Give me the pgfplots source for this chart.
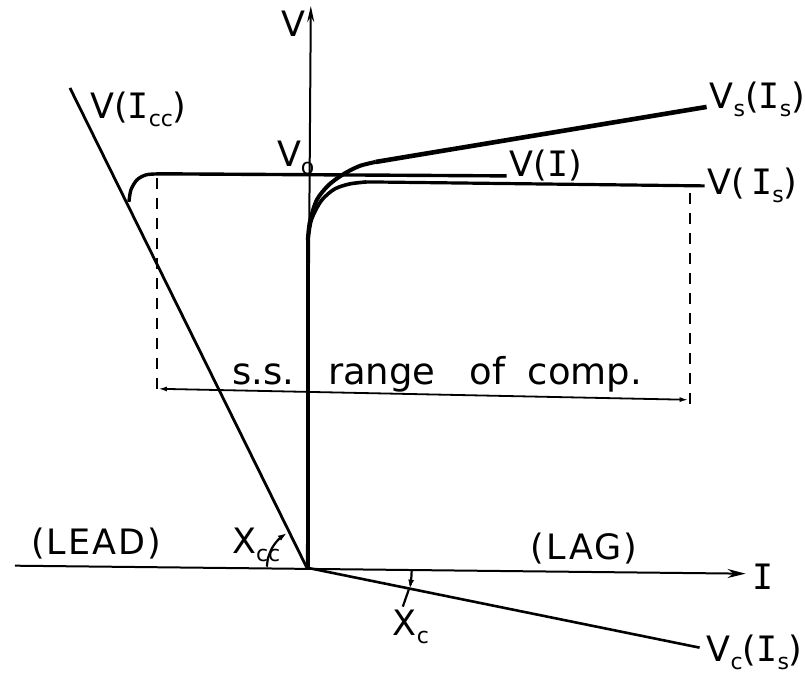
\documentclass[border=0pt]{standalone}
\usepackage{fontspec}
\setmainfont{DejaVu Sans}
\setmonofont{DejaVu Sans Mono}
\newfontfamily\spaced{DejaVu Sans}[LetterSpace=6]
\usepackage{pgfplots}
\pgfplotsset{compat=1.18}
\usetikzlibrary{arrows.meta}

% serifed capital I, as in the lettering of the figure
\newcommand\Ii{{\ttfamily I}}
% lowered, smaller subscript set in the text font
\newcommand\sub[1]{\raisebox{-0.4ex}{\fontsize{22}{22}\selectfont #1}}

\begin{document}
\begin{tikzpicture}[font=\fontsize{35}{40}\selectfont]
\begin{axis}[
  x=1pt, y=1pt,
  xmin=0, xmax=805, ymin=0, ymax=685,
  y dir=reverse,
  hide axis,
  clip=false,
]
% fixed drawing area
\path (axis cs:0,0) rectangle (axis cs:805,685);

% ---- axes ----
% current axis I (slightly sloping, as drawn)
\addplot[black, line width=2pt, -{Stealth[length=18pt,width=9pt]}]
  coordinates {(15,566) (746,574)};
% voltage axis V
\addplot[black, line width=2pt, -{Stealth[length=16pt,width=7pt]}]
  coordinates {(307,568) (311,6)};

% ---- characteristic lines ----
% V(I_cc): leading branch
\addplot[black, line width=2.8pt] coordinates {(70,88) (307,568)};
% V_c(I_s): compensator reactance line
\addplot[black, line width=2.6pt] coordinates {(307,568) (700,648)};

% common steep rise from the origin
\addplot[black, line width=4.2pt] coordinates {(308,568) (308,238)};

% V(I): flat at V_o, with the knee onto V(I_cc)
\addplot[black, line width=3.4pt, smooth]
  coordinates {(129,202) (131,190) (137,180) (146,175) (158,174) (175,174)};
\addplot[black, line width=3.4pt] coordinates {(175,174) (507,176)};

% V_s(I_s)
\addplot[black, line width=4pt, smooth]
  coordinates {(308,240) (310,222) (317,200) (329,185) (344,174) (360,166) (376,162)};
\addplot[black, line width=4.6pt] coordinates {(376,162) (707,107)};

% V(I_s)
\addplot[black, line width=3.6pt, smooth]
  coordinates {(308,240) (311,222) (316,210) (323,199) (335,189) (350,184) (367,182)};
\addplot[black, line width=3.2pt] coordinates {(367,182) (705,186)};

% ---- steady-state range of compensation ----
\addplot[black, line width=2pt, dash pattern=on 11pt off 9pt]
  coordinates {(157,178) (157,398)};
\addplot[black, line width=2pt, dash pattern=on 11pt off 9pt]
  coordinates {(690,193) (690,409)};
\addplot[black, line width=1.8pt,
  {Latex[length=9pt,width=5pt]}-{Latex[length=9pt,width=5pt]}]
  coordinates {(158,389) (689,400)};

% ---- slope angles ----
% X_cc between the I axis and V(I_cc)
\addplot[black, line width=2.2pt, smooth, -{Latex[length=9pt,width=6pt]}]
  coordinates {(267,567) (268.4,557.6) (272.4,548) (278.7,539.7) (287,533.4)};
% X_c between the I axis and V_c(I_s)
\addplot[black, line width=2.2pt, smooth, -{Latex[length=9pt,width=6pt]}]
  coordinates {(411.9,571) (411.6,577.2) (411,582.6) (410.1,589)};
\addplot[black, line width=2.2pt] coordinates {(409,590) (403,607)};

% ---- labels ----
\begin{scope}[every node/.style={inner sep=0pt, anchor=base west}]
\node at (axis cs:281,37)  {V};
\node at (axis cs:90,119)  {V(\Ii\sub{cc})};
\node at (axis cs:277,167) {V\sub{o}};
\node at (axis cs:510,177) {V(\Ii)};
\node at (axis cs:710,109) {V\sub{s}(\Ii\sub{s})};
\node at (axis cs:708,195) {V(\,\Ii\sub{s})};
\node at (axis cs:753,590) {\Ii};
\node at (axis cs:707,662) {V\sub{c}(\Ii\sub{s})};
\node at (axis cs:31,555)  {\spaced (LEAD)};
\node at (axis cs:232,554) {X\sub{cc}};
\node at (axis cs:531,560) {\spaced (LAG)};
\node at (axis cs:393,636) {X\sub{c}};
\node[font=\fontsize{37}{40}\selectfont] at (axis cs:232,385) {s.s.};
\node[font=\fontsize{37}{40}\selectfont] at (axis cs:328,385) {range};
\node[font=\fontsize{37}{40}\selectfont] at (axis cs:470,385) {of};
\node[font=\fontsize{37}{40}\selectfont] at (axis cs:528,385) {comp.};
\end{scope}
\end{axis}
\end{tikzpicture}
\end{document}
